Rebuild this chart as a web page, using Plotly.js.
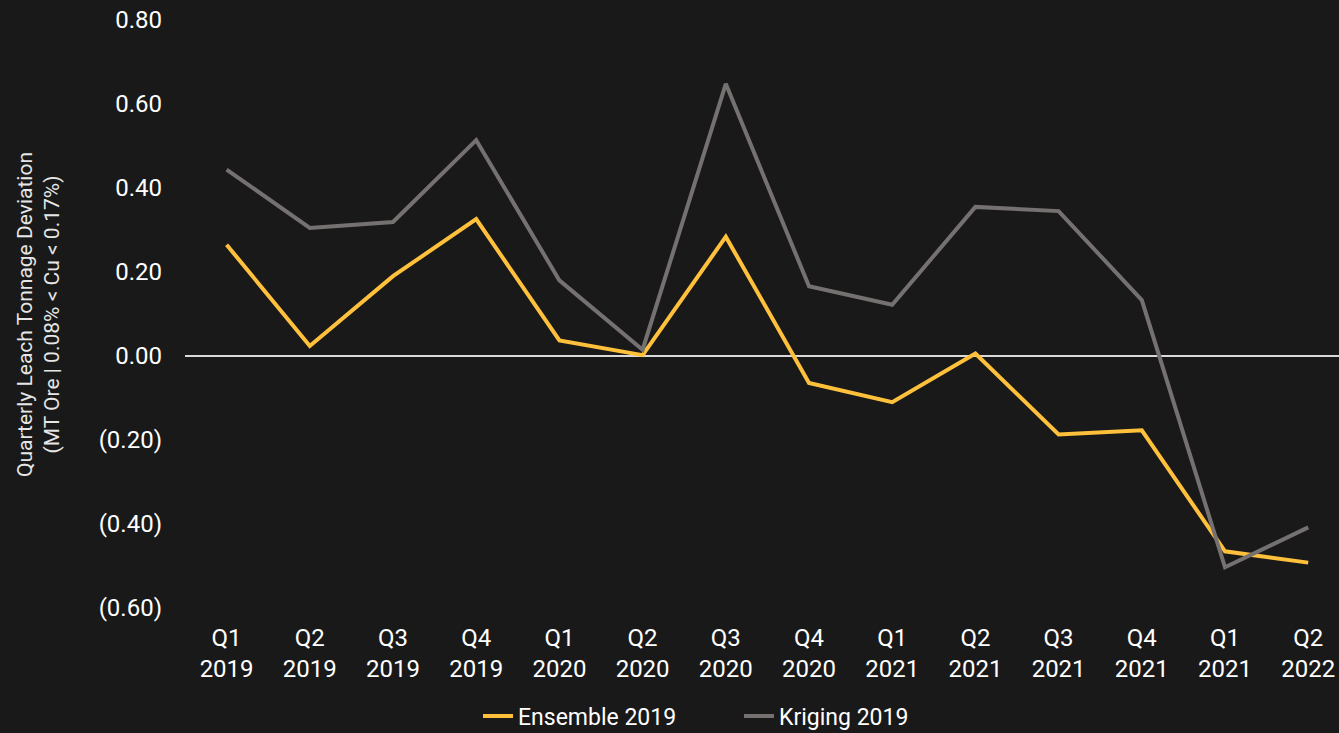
<!DOCTYPE html>
<html>
<head>
<meta charset="utf-8">
<script src="https://cdn.plot.ly/plotly-3.0.1.min.js"></script>
<style>
  html, body { margin: 0; padding: 0; background: #191919; }
  #chart { width: 1339px; height: 733px; }
</style>
</head>
<body>
<div id="chart"></div>
<script>
// ---- data ----
const quarters = ["Q1<br>2019","Q2<br>2019","Q3<br>2019","Q4<br>2019",
                  "Q1<br>2020","Q2<br>2020","Q3<br>2020","Q4<br>2020",
                  "Q1<br>2021","Q2<br>2021","Q3<br>2021","Q4<br>2021",
                  "Q1<br>2021","Q2<br>2022"];
const ensemble2019 = [0.265, 0.024, 0.190, 0.326, 0.037, 0.002, 0.284,
                      -0.064, -0.110, 0.006, -0.187, -0.177, -0.465, -0.492];
const kriging2019  = [0.444, 0.305, 0.319, 0.514, 0.180, 0.015, 0.648,
                      0.166, 0.122, 0.355, 0.345, 0.133, -0.503, -0.408];
const yTickVals = [0.8, 0.6, 0.4, 0.2, 0.0, -0.2, -0.4, -0.6];
const yTickText = ["0.80","0.60","0.40","0.20","0.00","(0.20)","(0.40)","(0.60)"];
const seriesNames = ["Ensemble 2019", "Kriging 2019"];
const yTitleLines = ["Quarterly Leach Tonnage Deviation", "(MT Ore | 0.08% < Cu < 0.17%)"];

const xIdx = quarters.map((_, i) => i);

const traces = [
  { x: xIdx, y: ensemble2019, name: seriesNames[0], type: "scatter", mode: "lines",
    line: { color: "#FFC13B", width: 4 } },
  { x: xIdx, y: kriging2019, name: seriesNames[1], type: "scatter", mode: "lines",
    line: { color: "#767171", width: 4 } }
];

const font = "Roboto, 'Noto Sans', sans-serif";

const layout = {
  width: 1339, height: 733,
  paper_bgcolor: "#191919", plot_bgcolor: "#191919",
  margin: { l: 185, r: 0, t: 20, b: 125, autoexpand: false },
  font: { family: font, color: "#ffffff", size: 24 },
  showlegend: true,
  legend: {
    orientation: "h", x: 0.2539, xanchor: "left", y: -0.1837, yanchor: "middle",
    font: { family: font, size: 23, color: "#ffffff" },
    bgcolor: "rgba(0,0,0,0)", entrywidth: 216, tracegroupgap: 0
  },
  xaxis: {
    range: [-0.5, 13.37], tickmode: "array", tickvals: xIdx, ticktext: quarters,
    showgrid: false, zeroline: false, showline: false, ticks: "",
    tickfont: { family: font, size: 24, color: "#ffffff" },
    ticklabelstandoff: 13, ticklabeloverflow: "allow",
    fixedrange: true, automargin: false
  },
  yaxis: {
    range: [-0.6, 0.8], tickmode: "array", tickvals: yTickVals, ticktext: yTickText,
    showgrid: false, zeroline: true, zerolinecolor: "#d9d9d9", zerolinewidth: 1.5,
    showline: false, ticks: "", ticklabelstandoff: 22, automargin: false,
    tickfont: { family: font, size: 24, color: "#ffffff" },
    fixedrange: true
  },
  annotations: [{
    text: yTitleLines.join("<br>"), xref: "paper", yref: "paper",
    x: -0.1274, y: 0.5, xanchor: "center", yanchor: "middle",
    textangle: -90, showarrow: false,
    font: { family: font, size: 21, color: "#e6e6e6" }
  }]
};

Plotly.newPlot("chart", traces, layout, { displayModeBar: false, staticPlot: true });
</script>
</body>
</html>
